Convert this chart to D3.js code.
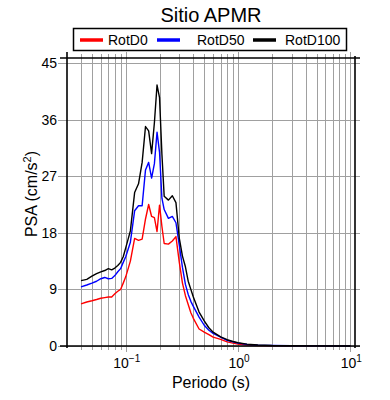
<!DOCTYPE html>
<html>
<head>
<meta charset="utf-8">
<script src="https://cdn.jsdelivr.net/npm/d3@7"></script>
<style>
  body { margin: 0; background: #fff; }
  text { font-family: "Liberation Sans", Arial, sans-serif; fill: #000; }
</style>
</head>
<body>
<div id="holder"></div>
<script>
// periods (s)
var periods = [0.04, 0.045, 0.05, 0.055, 0.06, 0.065, 0.07, 0.075, 0.08, 0.085, 0.09, 0.095,
  0.1, 0.11, 0.12, 0.13, 0.14, 0.15, 0.16, 0.17, 0.18, 0.19, 0.2, 0.21, 0.22, 0.24, 0.26, 0.28,
  0.3, 0.32, 0.34, 0.36, 0.38, 0.4, 0.45, 0.5, 0.55, 0.6, 0.7, 0.8, 0.9, 1.0, 1.2, 1.5, 2, 3, 5, 10];

var rotD0 = [6.7, 7.0, 7.2, 7.4, 7.6, 7.7, 7.8, 7.8, 8.3, 8.7, 9.0, 10.0,
  11.0, 13.5, 17.1, 16.8, 17.0, 20.2, 22.5, 20.6, 20.4, 18.2, 22.4, 19.0, 16.3, 16.2, 16.7, 17.4,
  13.3, 10.0, 8.0, 6.6, 5.3, 4.4, 2.7, 2.2, 1.8, 1.4, 1.05, 0.65, 0.45, 0.3, 0.16, 0.09, 0.05, 0.025, 0.012, 0.006];

var rotD50 = [9.4, 9.7, 10.0, 10.3, 10.7, 10.9, 10.7, 10.75, 11.2, 11.8, 12.3, 13.3,
  14.2, 16.5, 21.5, 22.3, 22.3, 28.0, 29.2, 26.7, 29.0, 34.0, 30.8, 23.5, 21.7, 20.3, 20.6, 19.6,
  16.0, 12.5, 9.8, 8.2, 7.1, 6.3, 4.6, 3.3, 2.5, 2.0, 1.4, 0.9, 0.65, 0.45, 0.25, 0.13, 0.07, 0.035, 0.015, 0.008];

var rotD100 = [10.4, 10.6, 11.1, 11.5, 11.8, 12.0, 12.3, 12.1, 12.4, 12.8, 13.3, 14.2,
  15.6, 18.3, 24.4, 25.8, 29.2, 34.9, 34.2, 30.6, 35.5, 41.5, 39.5, 30.5, 23.8, 23.2, 23.9, 22.8,
  17.1, 14.3, 12.6, 10.3, 9.0, 7.8, 5.4, 4.0, 2.9, 2.2, 1.45, 1.0, 0.72, 0.52, 0.3, 0.16, 0.08, 0.04, 0.02, 0.01];

var seriesNames = ['RotD0', 'RotD50', 'RotD100'];
var seriesColors = ['#ff0000', '#0000ff', '#000000'];
var yTicks = [0, 9, 18, 27, 36, 45];
var xMajor = [0.1, 1, 10];
var xMajorExp = ['\u22121', '0', '1'];

function drawChart() {
  var fullWidth = 390, fullHeight = 400;
  var pLeft = 67, pRight = 355, pTop = 58, pBottom = 346;

  var svg = d3.select('#holder').append('svg')
    .attr('width', fullWidth)
    .attr('height', fullHeight);

  var xScale = d3.scaleLog().domain([0.03, 11]).range([pLeft, pRight]);
  var yScale = d3.scaleLinear().domain([0, 45.8]).range([pBottom, pTop]);

  // vertical grid at every log tick
  var xGrid = [];
  [0.01, 0.1, 1].forEach(function(d) {
    for (var k = 1; k <= 9; k++) xGrid.push(+(d * k).toPrecision(3));
  });
  xGrid.push(10);
  xGrid = xGrid.filter(function(v) { return v > 0.031 && v < 10.9; });

  var grid = svg.append('g').attr('class', 'grid');
  grid.selectAll('line.vx')
      .data(xGrid)
    .enter().append('line')
      .attr('class', 'vx')
      .attr('x1', function(d) { return Math.round(xScale(d)) + 0.5; })
      .attr('x2', function(d) { return Math.round(xScale(d)) + 0.5; })
      .attr('y1', function(d) { return xMajor.indexOf(d) >= 0 ? pTop - 6 : pTop - 4; })
      .attr('y2', function(d) { return xMajor.indexOf(d) >= 0 ? pBottom + 6 : pBottom + 4; })
      .attr('stroke', '#a0a0a0')
      .attr('stroke-width', 1);

  grid.selectAll('line.hy')
      .data(yTicks)
    .enter().append('line')
      .attr('class', 'hy')
      .attr('x1', pLeft - 9)
      .attr('x2', pRight + 5)
      .attr('y1', function(d) { return Math.round(yScale(d)) + 0.5; })
      .attr('y2', function(d) { return Math.round(yScale(d)) + 0.5; })
      .attr('stroke', '#a0a0a0')
      .attr('stroke-width', 1);

  // curves
  var line = d3.line()
    .x(function(d) { return xScale(d[0]); })
    .y(function(d) { return yScale(d[1]); });

  [rotD0, rotD50, rotD100].forEach(function(vals, i) {
    svg.append('path')
      .datum(periods.map(function(p, j) { return [p, vals[j]]; }))
      .attr('d', line)
      .attr('fill', 'none')
      .attr('stroke', seriesColors[i])
      .attr('stroke-width', 1.4)
      .attr('stroke-linejoin', 'round');
  });

  // frame (axis lines slightly overshoot corners)
  var frame = svg.append('g').attr('stroke', '#000').attr('stroke-width', 1.6);
  frame.append('line').attr('x1', pLeft - 7).attr('x2', pRight + 5).attr('y1', pBottom).attr('y2', pBottom);
  frame.append('line').attr('x1', pLeft - 7).attr('x2', pRight + 5).attr('y1', pTop).attr('y2', pTop);
  frame.append('line').attr('x1', pLeft).attr('x2', pLeft).attr('y1', pTop - 6).attr('y2', pBottom + 2);
  frame.append('line').attr('x1', pRight).attr('x2', pRight).attr('y1', pTop - 2).attr('y2', pBottom + 2);

  // y tick labels
  svg.selectAll('text.ylab')
      .data(yTicks)
    .enter().append('text')
      .attr('class', 'ylab')
      .attr('x', pLeft - 10)
      .attr('y', function(d) { return yScale(d) + 5; })
      .attr('text-anchor', 'end')
      .attr('font-size', 14)
      .text(function(d) { return d; });

  // x tick labels 10^n
  var xl = svg.selectAll('text.xlab')
      .data(xMajor)
    .enter().append('text')
      .attr('class', 'xlab')
      .attr('x', function(d) { return xScale(d) + 1; })
      .attr('y', 368)
      .attr('text-anchor', 'middle')
      .attr('font-size', 14);
  xl.append('tspan').text('10');
  xl.append('tspan')
    .attr('dy', -6)
    .attr('font-size', 10)
    .text(function(d, i) { return xMajorExp[i]; });

  // axis titles
  svg.append('text')
    .attr('x', 211)
    .attr('y', 388)
    .attr('text-anchor', 'middle')
    .attr('font-size', 16)
    .text('Periodo (s)');

  var yt = svg.append('text')
    .attr('transform', 'translate(37,194) rotate(-90)')
    .attr('text-anchor', 'middle')
    .attr('font-size', 16);
  yt.append('tspan').text('PSA (cm/s');
  yt.append('tspan').attr('dy', -6).attr('font-size', 11).text('2');
  yt.append('tspan').attr('dy', 6).text(')');

  // title
  svg.append('text')
    .attr('x', 211)
    .attr('y', 22)
    .attr('text-anchor', 'middle')
    .attr('font-size', 20)
    .text('Sitio APMR');

  // legend
  var legend = svg.append('g');
  legend.append('rect')
    .attr('x', 73.5).attr('y', 28.5)
    .attr('width', 273).attr('height', 22)
    .attr('fill', '#fff')
    .attr('stroke', '#000')
    .attr('stroke-width', 1.5);
  var legX = [80, 157, 253];
  var legTextX = [108, 197, 285];
  seriesNames.forEach(function(name, i) {
    legend.append('line')
      .attr('x1', legX[i]).attr('x2', legX[i] + 23)
      .attr('y1', 40).attr('y2', 40)
      .attr('stroke', seriesColors[i])
      .attr('stroke-width', 3.5);
    legend.append('text')
      .attr('x', legTextX[i])
      .attr('y', 44.5)
      .attr('font-size', 14)
      .text(name);
  });
}

drawChart();
</script>
</body>
</html>
